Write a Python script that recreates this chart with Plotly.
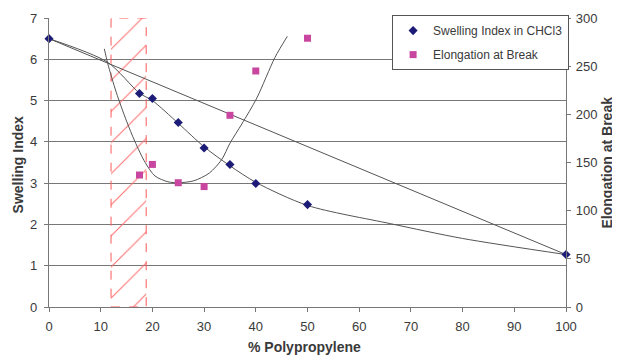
import plotly.graph_objects as go

# ---- data ----
pp_swell = [0, 17.5, 20, 25, 30, 35, 40, 50, 100]
swelling = [6.5, 5.17, 5.05, 4.47, 3.85, 3.45, 2.99, 2.48, 1.27]

pp_elong = [17.5, 20, 25, 30, 35, 40, 50]
elongation = [137, 148, 129, 125, 199, 245, 279]

# trend curve through the swelling points
pp_swell_fit = [0, 11.3, 17.5, 20, 25, 30, 35, 40, 50, 66, 80, 100]
swell_fit = [6.5, 5.93, 5.18, 5.0, 4.45, 3.88, 3.42, 3.02, 2.46, 2.02, 1.66, 1.27]

# U-shaped trend curve for elongation
pp_elong_fit = [10.7, 11.35, 13, 15, 16.6, 18.6, 20.5, 23, 25, 28, 31, 33.4, 35, 37.3, 40.2, 43.7, 46.1]
elong_fit = [268, 253, 223, 193, 172, 150, 136, 130, 129, 131, 139, 153, 170, 190, 217, 259, 281]

# hatched critical zone (% polypropylene)
zone = [12, 18.8]

x_ticks = list(range(0, 101, 10))
left_ticks = list(range(0, 8))
right_ticks = list(range(0, 301, 50))

FONT = "Liberation Sans, Arial, sans-serif"
LINE = "#555555"
GRID = "#777777"
TXT = "#3a3a3a"

fig = go.Figure()

# hatched zone
fig.add_trace(go.Scatter(
    x=[zone[0], zone[1], zone[1], zone[0], zone[0]],
    y=[left_ticks[0], left_ticks[0], left_ticks[-1], left_ticks[-1], left_ticks[0]],
    mode="lines", fill="toself",
    fillcolor="rgba(0,0,0,0)",
    fillpattern=dict(shape="/", fgcolor="#ff6a6a", fgopacity=1, bgcolor="rgba(0,0,0,0)",
                     size=22, solidity=0.045),
    line=dict(color="#ff5a5a", width=1, dash="dash"),
    showlegend=False, hoverinfo="skip",
))

# straight mixing line between end points
fig.add_trace(go.Scatter(
    x=[pp_swell[0], pp_swell[-1]], y=[swelling[0], swelling[-1]],
    mode="lines", line=dict(color=LINE, width=1), showlegend=False, hoverinfo="skip",
))

# swelling trend curve
fig.add_trace(go.Scatter(
    x=pp_swell_fit, y=swell_fit, mode="lines",
    line=dict(color=LINE, width=1, shape="spline", smoothing=0.8),
    showlegend=False, hoverinfo="skip",
))

# elongation trend curve
fig.add_trace(go.Scatter(
    x=pp_elong_fit, y=elong_fit, mode="lines", yaxis="y2",
    line=dict(color=LINE, width=1, shape="spline", smoothing=0.8),
    showlegend=False, hoverinfo="skip",
))

fig.add_trace(go.Scatter(
    x=pp_swell, y=swelling, mode="markers", name="Swelling Index in CHCl3",
    marker=dict(symbol="diamond", size=7, color="#1c1c78"),
    cliponaxis=False, legendgroup="a",
))
fig.add_trace(go.Scatter(
    x=pp_elong, y=elongation, mode="markers", name="Elongation at Break", yaxis="y2",
    marker=dict(symbol="square", size=7, color="#c8469f"),
    cliponaxis=False, legendgroup="b",
))

TICKFONT = dict(size=13, color=TXT)
TITLEFONT = dict(size=14, color=TXT)

# page body has an 8px margin, so the figure is sized/offset to compensate
fig.update_layout(
    width=612, height=347,
    margin=dict(l=41, r=54, t=10, b=48, autoexpand=False),
    paper_bgcolor="white", plot_bgcolor="white",
    font=dict(family=FONT, size=12, color=TXT),
    xaxis=dict(
        range=[0, 100], tickvals=x_ticks, showgrid=False, zeroline=False,
        showline=True, linecolor=GRID, linewidth=1.3, automargin=False,
        ticks="outside", ticklen=4, tickcolor=GRID, tickfont=TICKFONT,
        ticklabelstandoff=3,
    ),
    yaxis=dict(
        range=[0, 7], tickvals=left_ticks, showgrid=True, gridcolor=GRID, gridwidth=1.3,
        zeroline=False, showline=True, linecolor=GRID, linewidth=1.3, automargin=False,
        ticks="outside", ticklen=4, tickcolor=GRID, tickfont=TICKFONT,
        ticklabelstandoff=4,
    ),
    yaxis2=dict(
        range=[0, 300], tickvals=right_ticks, overlaying="y", side="right",
        showgrid=False, zeroline=False, showline=True, linecolor=GRID, linewidth=1.3,
        automargin=False, ticks="outside", ticklen=4, tickcolor=GRID, tickfont=TICKFONT,
        ticklabelstandoff=2,
    ),
    legend=dict(
        x=1.006, y=1.01, xanchor="right", yanchor="top",
        bgcolor="white", bordercolor="#555555", borderwidth=1,
        font=dict(size=12, color=TXT), tracegroupgap=5, itemwidth=30,
    ),
    annotations=[
        dict(text="<b>% Polypropylene</b>", xref="paper", yref="paper",
             x=0.5 - 0.006, y=0, yshift=-40, xanchor="center", yanchor="middle",
             showarrow=False, font=TITLEFONT),
        dict(text="<b>Swelling Index</b>", xref="paper", yref="paper",
             x=0, xshift=-31, y=0.49, textangle=-90, xanchor="center", yanchor="middle",
             showarrow=False, font=TITLEFONT),
        dict(text="<b>Elongation at Break</b>", xref="paper", yref="paper",
             x=1, xshift=40, y=0.5, textangle=-90, xanchor="center", yanchor="middle",
             showarrow=False, font=TITLEFONT),
    ],
)

fig.write_html("out.html")
